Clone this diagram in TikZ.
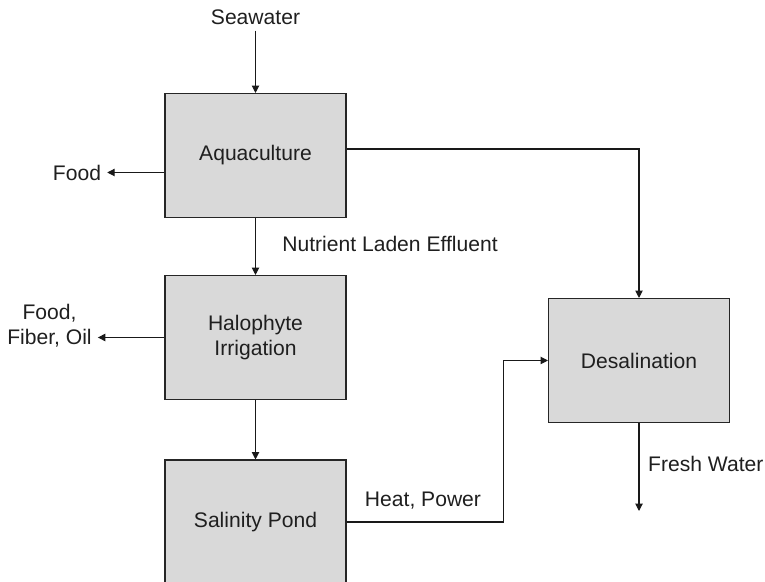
\documentclass[tikz,border=0pt]{standalone}
\usepackage{fontspec}
\setmainfont{Liberation Sans}
\usepackage{tikz}
\usetikzlibrary{arrows.meta}

\begin{document}
\begin{tikzpicture}[
    x=1cm, y=1cm,
    txt/.style={font=\fontsize{12}{14.4}\selectfont, text=black!88},
    unit/.style={txt, draw=black!85, line width=0.6pt, fill=black!15, minimum width=3.62cm, minimum height=2.48cm, align=center},
    flow/.style={draw=black!90, line width=0.6pt, -{Triangle[length=4.2pt, width=4.2pt]}},
    wire/.style={draw=black!90, line width=0.6pt}
]
\useasboundingbox (0,0) rectangle (15.3,11.64);

% --- Process units ---
\node[unit] (aqua) at (5.11, 8.53) {Aquaculture};
\node[unit] (halo) at (5.11, 4.89) {Halophyte\\Irrigation};
\node[unit] (sal) at (5.11, 1.20) {Salinity Pond};
\node[unit] (desal) at (12.78, 4.43) {Desalination};

% --- Inputs / products ---
\node[txt] (sea) at (5.11, 11.30) {Seawater};
\node[txt] (food) at (1.54, 8.19) {Food};
\node[txt, align=center] (fiber) at (0.99, 5.13) {Food,\\Fiber, Oil};

% Free ends of connectors
\coordinate (heatx) at (10.07, 0);
\coordinate (fresh) at (12.78, 1.42);

% --- Flows ---
\draw[flow] (sea) -- (aqua);
\draw[flow] ([yshift=-0.34cm]aqua.west) -- (food);
\draw[flow] (aqua) -- (halo)
    node[txt, anchor=west] at (5.52, 6.76) {Nutrient Laden Effluent};
\draw[flow] (halo.west) -- (halo.west -| fiber.east);
\draw[flow] (halo) -- (sal);
\draw[flow] ([yshift=0.13cm]aqua.east) -| (desal.north);

% Heat from pond to desalination
\draw[flow] (sal.east) -- (sal.east -| heatx) |- (desal.west);
\node[txt] (heat) at (8.46, 1.63) {Heat, Power};

% Product water
\draw[flow] (desal.south) -- (fresh);
\node[txt, anchor=west] (freshlbl) at (12.84, 2.37) {Fresh Water};

\end{tikzpicture}
\end{document}
